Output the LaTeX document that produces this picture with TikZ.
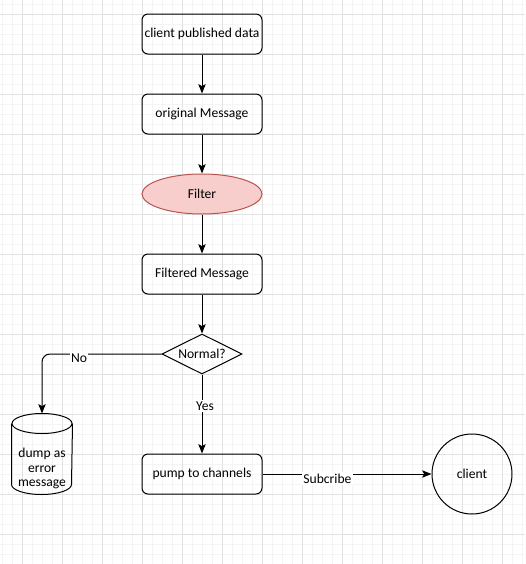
\documentclass[tikz,border=0pt]{standalone}
\usepackage{fontspec}
\setmainfont{Carlito}
\usetikzlibrary{shapes.geometric,arrows.meta}
\definecolor{filterfill}{HTML}{F8CECC}
\definecolor{filterline}{HTML}{B85450}
\definecolor{gridminor}{HTML}{F4F4F4}
\definecolor{gridmajor}{HTML}{E2E2E2}
\begin{document}
\begin{tikzpicture}[x=0.75pt,y=-0.75pt,line width=0.75pt]
			\tikzset{>={Stealth[length=7pt,width=5.5pt,inset=1.5pt]}}
			\tikzset{txt/.style={font=\fontsize{10.2}{10.8}\selectfont,inner sep=0pt}}
			\tikzset{box/.style={txt,draw,rounded corners=4.5pt,minimum width=90pt,minimum height=30pt}}
			\tikzset{lbl/.style={txt,fill=white,inner sep=1pt}}
			\useasboundingbox (0,0) rectangle (525,564);
			\fill[white] (0,0) rectangle (525,564);
			% grid
			\foreach \x in {2.3,12.3,...,525} \draw[gridminor] (\x,0) -- (\x,564);
			\foreach \y in {4.3,14.3,...,564} \draw[gridminor] (0,\y) -- (525,\y);
			\foreach \x in {22.3,62.3,...,525} \draw[gridmajor] (\x,0) -- (\x,564);
			\foreach \y in {14.3,54.3,...,564} \draw[gridmajor] (0,\y) -- (525,\y);

			\node[box] (published) at (202,34) {client published data};
			\node[box] (original) at (202,114) {original Message};
			\node[txt,ellipse,draw=filterline,fill=filterfill,minimum width=90pt,minimum height=30pt] (filter) at (202,194) {Filter};
			\node[box] (filtered) at (202,274) {Filtered Message};
			\node[txt,diamond,draw,aspect=2,minimum width=60pt,minimum height=30pt] (normal) at (202,354) {Normal?};
			\node[txt,minimum width=45pt,minimum height=60pt,align=center] (dump) at (42,454) {\mbox{}\\[18pt]dump as\\error\\message};
			\node[box] (pump) at (202,474) {pump to channels};
			\node[txt,circle,draw,minimum size=60pt] (client) at (472,474) {client};
			% cylinder outline
			\draw ([yshift=-7.5pt]dump.north) ellipse (30 and 10);
			\draw ([yshift=-7.5pt]dump.north west) -- ([yshift=7.5pt]dump.south west) arc[start angle=180,end angle=0,x radius=30,y radius=10] -- ([yshift=-7.5pt]dump.north east);

			\draw[->] (published) -- (original);
			\draw[->] (original) -- (filter);
			\draw[->] (filter) -- (filtered);
			\draw[->] (filtered) -- (normal);
			\draw[->,rounded corners=6pt] (normal.west) -| (dump.north);
			\draw[->] (normal) -- (pump);
			\draw[->] (pump) -- (client);
			\node[lbl] at (79,358) {No};
			\node[lbl] at (205,406) {Yes};
			\node[lbl] at (327.5,478.5) {Subcribe};
		\end{tikzpicture}
\end{document}
